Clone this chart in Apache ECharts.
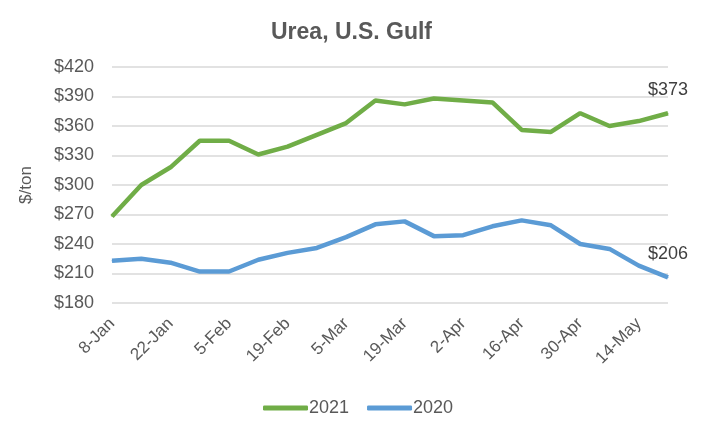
<!DOCTYPE html>
<html><head><meta charset="utf-8">
<script src="https://cdn.jsdelivr.net/npm/echarts@6/dist/echarts.min.js"></script>
<style>html,body{margin:0;padding:0;background:#fff}#c{width:703px;height:433px}</style>
</head><body><div id="c"></div>
<script>
const categories = ['8-Jan','15-Jan','22-Jan','29-Jan','5-Feb','12-Feb','19-Feb','26-Feb','5-Mar','12-Mar','19-Mar','26-Mar','2-Apr','9-Apr','16-Apr','23-Apr','30-Apr','7-May','14-May','21-May'];
const values2021 = [268,300,318,345,345,331,339,351,363,386,382,388,386,384,356,354,373,360,365,373];
const values2020 = [223,225,221,212,212,224,231,236,247,260,263,248,249,258,264,259,240,235,218,206];
const yTicks = {min:180, max:420, interval:30};
const font = '"Liberation Sans", Arial, sans-serif';
const grey = '#595959';
function lastLabel(arr){
  return arr.map((v,i)=> i===arr.length-1 ? {value:v, label:{show:true, position:'top', distance:14, formatter:'$'+v, color:'#404040', fontSize:18, fontFamily:font}} : v);
}
const chart = echarts.init(document.getElementById('c'));
chart.setOption({
  animation:false,
  backgroundColor:'#fff',
  title:{text:'Urea, U.S. Gulf', left:'center', top:16, textStyle:{fontFamily:font, fontSize:23, fontWeight:'bold', color:grey}},
  grid:{left:112, right:35, top:67, bottom:130},
  legend:{left:258, top:394, icon:'roundRect', itemWidth:45, itemHeight:5, itemGap:18, textStyle:{fontFamily:font, fontSize:18, color:grey, padding:[0,0,0,-4]}, data:['2021','2020']},
  xAxis:{type:'category', data:categories, boundaryGap:false,
    axisLine:{show:false}, axisTick:{show:false},
    axisLabel:{interval:1, rotate:45, margin:18, fontFamily:font, fontSize:17, color:grey}},
  yAxis:{type:'value', min:yTicks.min, max:yTicks.max, interval:yTicks.interval,
    name:'$/ton', nameLocation:'middle', nameGap:77, nameRotate:90, nameTextStyle:{fontFamily:font, fontSize:17, color:grey},
    axisLine:{show:false}, axisTick:{show:false},
    splitLine:{lineStyle:{color:'#D9D9D9', width:1.5}},
    axisLabel:{margin:18, fontFamily:font, fontSize:18, color:grey, formatter:v=>'$'+v}},
  series:[
    {name:'2021', type:'line', data:lastLabel(values2021), symbol:'circle', symbolSize:1, showSymbol:true, lineStyle:{color:'#70AD47', width:4.5}, itemStyle:{color:'#70AD47'}},
    {name:'2020', type:'line', data:lastLabel(values2020), symbol:'circle', symbolSize:1, showSymbol:true, lineStyle:{color:'#5B9BD5', width:4.5}, itemStyle:{color:'#5B9BD5'}}
  ]
});
</script></body></html>
